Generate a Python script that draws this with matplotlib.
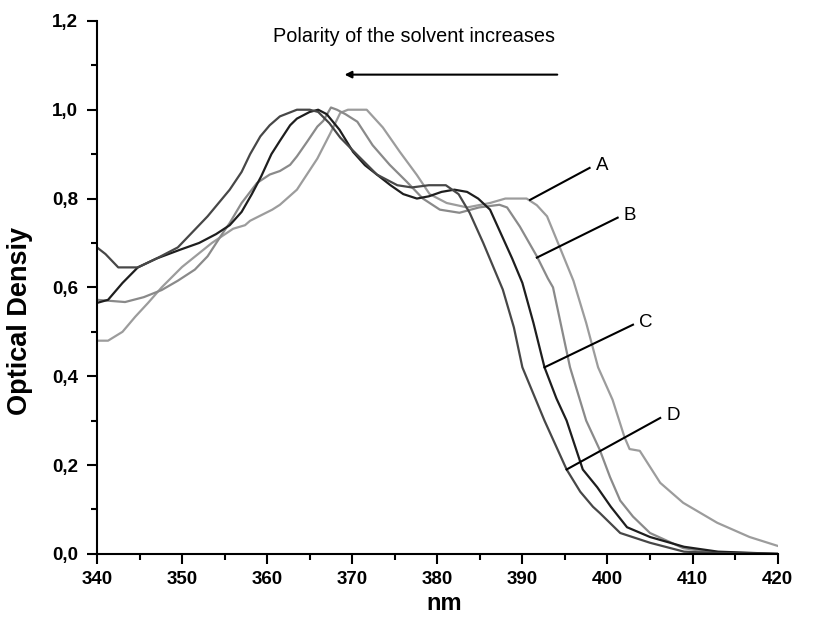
import matplotlib
matplotlib.use('Agg')
import matplotlib.pyplot as plt
from matplotlib.ticker import MultipleLocator, FuncFormatter

plt.rcParams['font.family'] = ['Liberation Sans', 'DejaVu Sans']

# curve A (least polar solvent, rightmost)
a_nm = [340, 341.3, 343, 344.5, 346, 347.6, 350, 353.5, 356, 357.4, 358, 360.6, 361.5,
        363.5, 365.9, 367.4, 368.6, 369.5, 371.7, 373.6, 375.6, 377.6, 379.1, 381.1,
        383.5, 386.2, 388, 390.5, 391.7, 392.9, 394.4, 396, 397.5, 398.9, 400.6, 402,
        402.6, 403.8, 406.2, 408.9, 412.9, 416.7, 420]
a_od = [0.48, 0.48, 0.50, 0.534, 0.565, 0.60, 0.646, 0.70, 0.732, 0.74, 0.75, 0.775, 0.786,
        0.82, 0.89, 0.946, 0.993, 1.0, 1.0, 0.96, 0.905, 0.853, 0.81, 0.79,
        0.78, 0.79, 0.80, 0.80, 0.785, 0.76, 0.69, 0.615, 0.52, 0.42, 0.347, 0.263,
        0.236, 0.232, 0.16, 0.115, 0.07, 0.038, 0.018]

# curve B
b_nm = [340, 343.3, 345.5, 347.6, 349.5, 351.5, 353, 354.7, 355.6, 357, 358.8, 360.3, 361.5,
        362.7, 363.5, 364.7, 365.9, 366.6, 367.5, 368.2, 369.2, 370.6, 372.4, 374.4, 376.4,
        378.3, 380.3, 382.6, 384.9, 387.3, 388.2, 389.7, 391.7, 393, 393.6, 395.6, 397.5,
        399.1, 400.3, 401.5, 403, 405, 408.9, 412, 420]
b_od = [0.572, 0.567, 0.578, 0.594, 0.615, 0.64, 0.67, 0.72, 0.745, 0.79, 0.835, 0.854, 0.862,
        0.876, 0.895, 0.928, 0.962, 0.975, 1.005, 1.0, 0.99, 0.973, 0.92, 0.876, 0.838,
        0.80, 0.775, 0.768, 0.78, 0.786, 0.78, 0.737, 0.67, 0.62, 0.60, 0.42, 0.30,
        0.234, 0.173, 0.12, 0.084, 0.047, 0.013, 0.004, 0.0]

# curve C
c_nm = [340, 341.3, 343, 344.8, 347, 349.8, 352, 354, 355.6, 357, 358.2, 359.3, 360.5, 361.5,
        362.7, 363.5, 365, 366, 367, 368.5, 370.1, 371.5, 372.9, 374.5, 376, 377.6, 379,
        380.5, 382, 383.5, 384.8, 386.2, 387.5, 388.8, 390, 391.3, 392.6, 394, 395.2, 397.1,
        398.8, 400.4, 402.3, 405, 409, 413, 420]
c_od = [0.565, 0.572, 0.61, 0.645, 0.665, 0.685, 0.70, 0.72, 0.74, 0.77, 0.81, 0.85, 0.90, 0.93,
        0.965, 0.98, 0.995, 1.0, 0.99, 0.955, 0.905, 0.875, 0.854, 0.83, 0.81, 0.80, 0.805,
        0.815, 0.82, 0.815, 0.80, 0.775, 0.72, 0.665, 0.61, 0.52, 0.42, 0.35, 0.30, 0.19,
        0.15, 0.106, 0.06, 0.038, 0.016, 0.005, 0.0]

# curve D (most polar solvent, leftmost)
d_nm = [340, 341, 342.5, 344.8, 347, 349.5, 351, 353, 355.6, 357, 358, 359.2, 360.3, 361.5,
        363.5, 365, 366, 367.3, 368.6, 370.5, 372.9, 375.3, 377, 379, 381, 382.5, 383.8,
        385.4, 387.7, 389, 390, 392.6, 395.2, 396.8, 398.3, 399.1, 401.5, 405, 409, 413, 420]
d_od = [0.69, 0.675, 0.645, 0.645, 0.665, 0.69, 0.72, 0.76, 0.82, 0.86, 0.90, 0.94, 0.965, 0.985,
        1.0, 1.0, 0.995, 0.97, 0.937, 0.90, 0.854, 0.83, 0.825, 0.83, 0.83, 0.81, 0.768,
        0.70, 0.595, 0.51, 0.42, 0.30, 0.19, 0.14, 0.106, 0.092, 0.047, 0.025, 0.005, 0.002, 0.0]

curves = [(a_nm, a_od, '#9c9c9c'), (b_nm, b_od, '#8a8a8a'),
          (c_nm, c_od, '#1e1e1e'), (d_nm, d_od, '#474747')]

fig = plt.figure(figsize=(8.22, 6.33), dpi=100)
ax = fig.add_axes([0.118, 0.125, 0.828, 0.842])

for nm, od, col in curves:
    ax.plot(nm, od, color=col, lw=1.6)

ax.set_xlim(340, 420)
ax.set_ylim(0, 1.2)
ax.spines['top'].set_visible(False)
ax.spines['right'].set_visible(False)
ax.spines['left'].set_linewidth(1.5)
ax.spines['bottom'].set_linewidth(1.5)

ax.xaxis.set_major_locator(MultipleLocator(10))
ax.xaxis.set_minor_locator(MultipleLocator(5))
ax.yaxis.set_major_locator(MultipleLocator(0.2))
ax.yaxis.set_minor_locator(MultipleLocator(0.1))
ax.yaxis.set_major_formatter(FuncFormatter(lambda v, p: f'{v:.1f}'.replace('.', ',')))
ax.tick_params(which='major', direction='out', length=7.5, width=1.5, labelsize=13.5)
ax.tick_params(axis='y', which='major', pad=6)
ax.tick_params(axis='x', which='major', pad=5)
ax.tick_params(which='minor', direction='out', length=4.5, width=1.5)
for lab in ax.get_xticklabels() + ax.get_yticklabels():
    lab.set_fontweight('bold')

ax.set_xlabel('nm', fontsize=17, fontweight='bold')
ax.set_ylabel('Optical Densiy', fontsize=19.5, fontweight='bold', va='center')
ax.xaxis.set_label_coords(0.51, -0.071)
ax.yaxis.set_label_coords(-0.113, 0.437)

# labels A-D with leader lines
labels = [('A', (390.9, 0.797), (397.9, 0.869)),
          ('B', (391.7, 0.667), (401.2, 0.757)),
          ('C', (392.6, 0.42), (403.0, 0.516)),
          ('D', (395.2, 0.19), (406.2, 0.306))]
for name, tip, end in labels:
    ax.plot([tip[0], end[0]], [tip[1], end[1]], color='black', lw=1.5)
    ax.text(end[0] + 0.7, end[1] + 0.005, name, fontsize=13.5, ha='left', va='center')

ax.text(377.3, 1.164, 'Polarity of the solvent increases', fontsize=14.3, ha='center', va='center')
ax.annotate('', xy=(369.1, 1.079), xytext=(394.1, 1.079),
            arrowprops=dict(arrowstyle='-|>', color='black', lw=1.5,
                            mutation_scale=10, shrinkA=0, shrinkB=0),
            annotation_clip=False)

fig.savefig('out.png', dpi=100)
